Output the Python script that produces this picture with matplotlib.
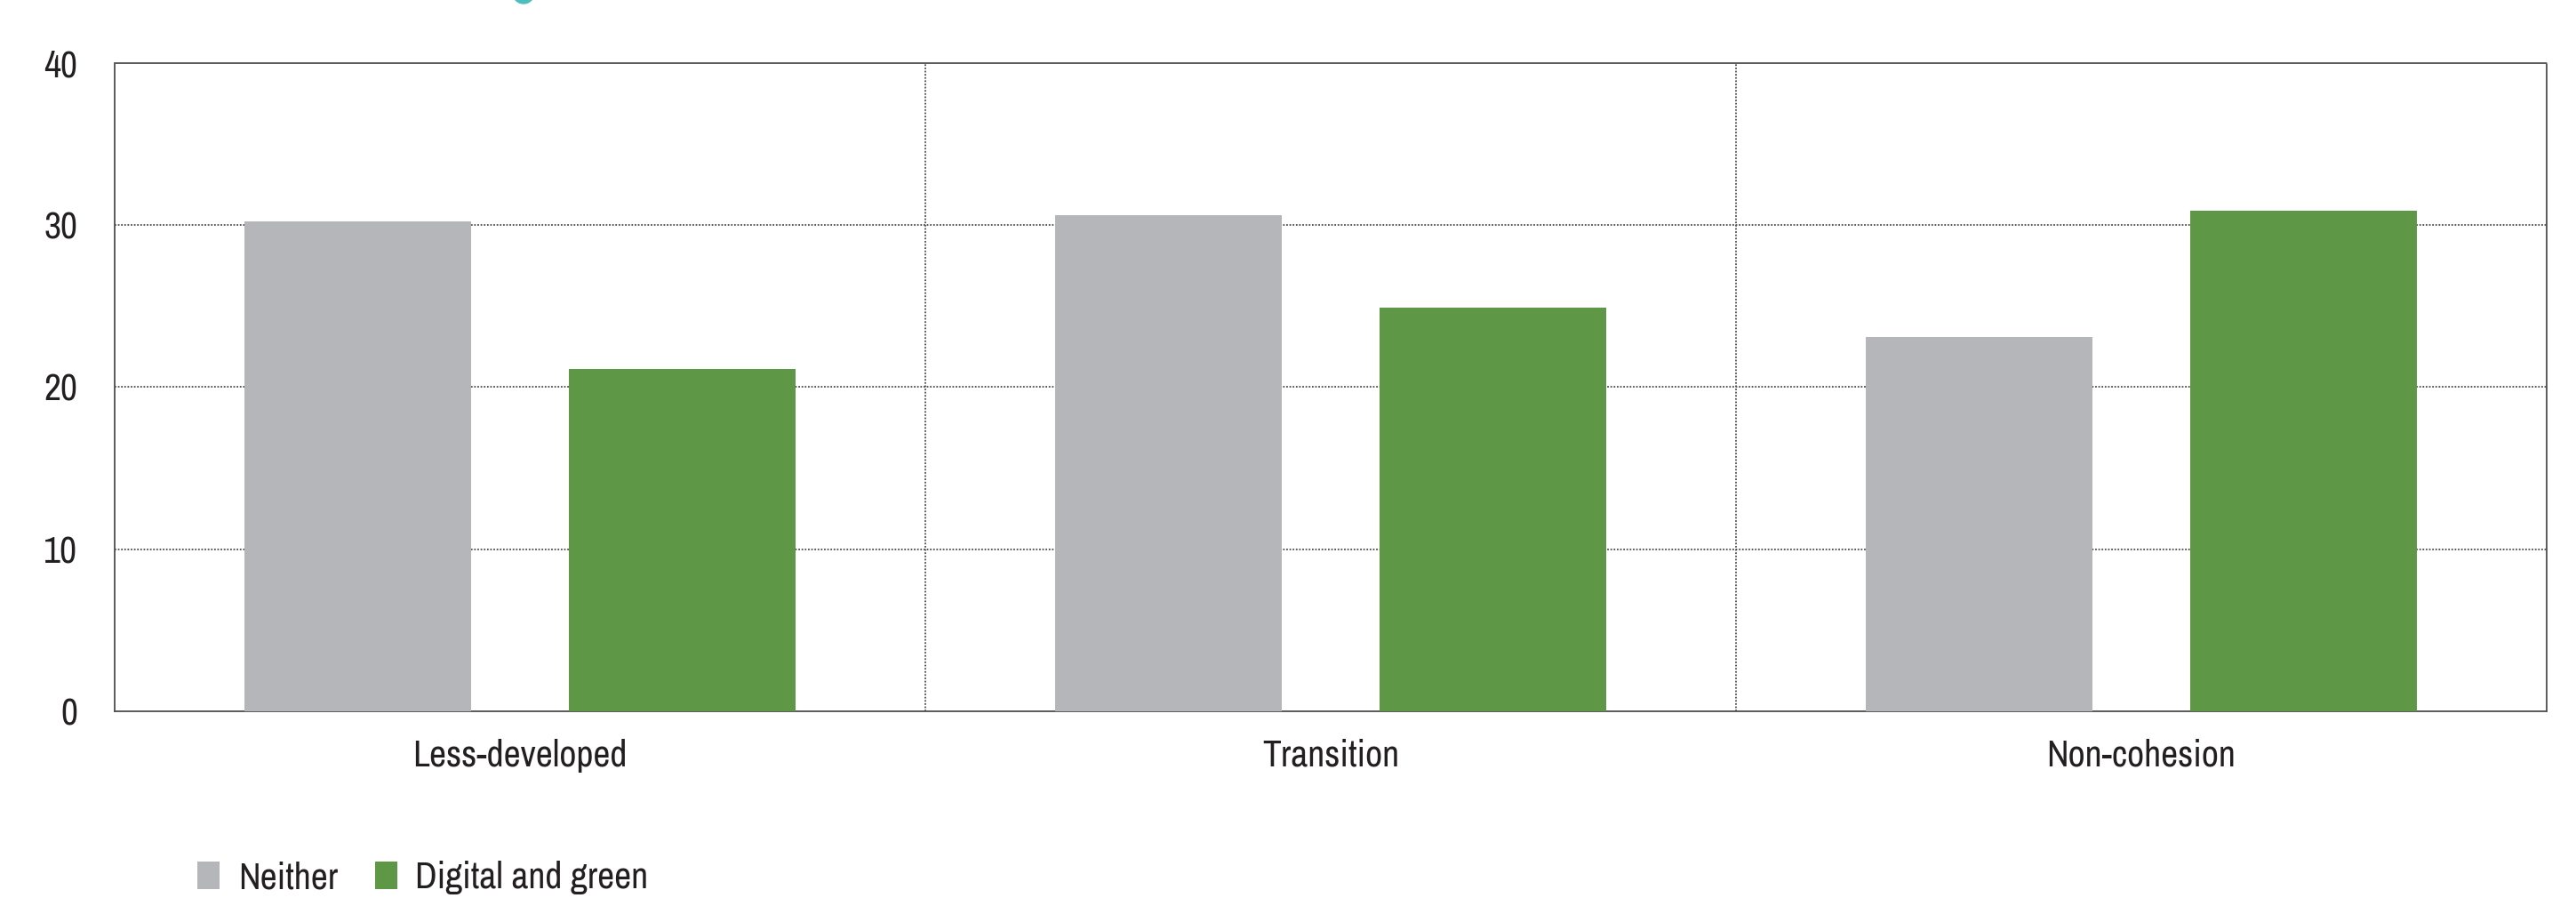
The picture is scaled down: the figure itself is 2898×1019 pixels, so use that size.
import matplotlib
matplotlib.use("Agg")
import matplotlib.pyplot as plt
from matplotlib import font_manager
from matplotlib.patches import Ellipse
import numpy as np

# data
categories = ["Less-developed", "Transition", "Non-cohesion"]
series_names = ["Neither", "Digital and green"]
neither = [30.2, 30.6, 23.1]
digital_green = [21.1, 24.9, 30.9]
y_ticks = [0, 10, 20, 30, 40]

colors = ["#B5B6B9", "#5E9745"]

# narrow font if the system has one, otherwise condensed DejaVu
fonts = font_manager.fontManager.ttflist
narrow = sorted({f.name for f in fonts if "Narrow" in f.name or "Condensed" in f.name})
stretch = "normal"
if narrow:
    family = narrow[0]
elif any(f.name == "DejaVu Sans" and f.stretch == "condensed" for f in fonts):
    family, stretch = "DejaVu Sans", "condensed"
else:
    family = "DejaVu Sans"
plt.rcParams["font.family"] = [family, "DejaVu Sans"]
plt.rcParams["font.stretch"] = stretch
plt.rcParams["font.weight"] = "light"
plt.rcParams["font.size"] = 30
plt.rcParams["text.color"] = "#231F20"

W, H = 2898, 1019
fig = plt.figure(figsize=(W / 100, H / 100), dpi=100)
ax = fig.add_axes([129 / W, 1 - 800 / H, (2865 - 129) / W, (800 - 70.7) / H])

x = np.arange(len(categories))
offset = 0.2
width = 0.28
b1 = ax.bar(x - offset, neither, width, color=colors[0], label=series_names[0], zorder=3)
b2 = ax.bar(x + offset, digital_green, width, color=colors[1], label=series_names[1], zorder=3)

ax.set_xlim(-0.5, len(categories) - 0.5)
ax.set_ylim(0, 40)
ax.set_yticks(y_ticks)
ax.set_xticks(x)
ax.set_xticklabels(categories)

grid_kw = dict(color="#4D4D4D", linestyle=(0, (1, 1)), linewidth=1.3, zorder=1)
for yv in y_ticks[1:-1]:
    ax.axhline(yv, **grid_kw)
for xv in x[:-1] + 0.5:
    ax.axvline(xv, **grid_kw)

for side in ["left", "right", "top", "bottom"]:
    ax.spines[side].set_linestyle((0, (1, 1)))
    ax.spines[side].set_linewidth(1.3)
    ax.spines[side].set_color("#4D4D4D")

ax.tick_params(axis="both", length=0, labelcolor="#231F20")
ax.tick_params(axis="x", pad=22)
ax.tick_params(axis="y", pad=30)

fig.legend(handles=[b1, b2], loc="center left", bbox_to_anchor=(222 / W, 1 - 987 / H),
           ncol=2, frameon=False, borderpad=0, borderaxespad=0,
           handlelength=0.6, handleheight=0.78, handletextpad=0.5, columnspacing=1.0)

# teal mark cut off at the top edge
fig.patches.append(Ellipse((589 / W, 1 + 8 / H), 24 / W, 24 / H,
                           transform=fig.transFigure, color="#4DBDBE", clip_on=False))

fig.savefig("out.png", dpi=100)
